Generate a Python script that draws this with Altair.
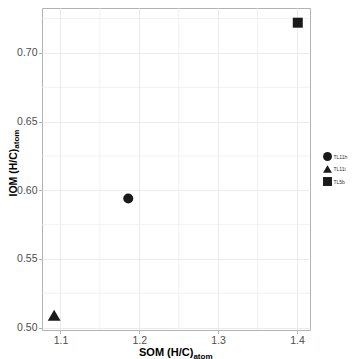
import altair as alt
import pandas as pd

# ---- data ----
samples = ["TL11h", "TL11i", "TL5b"]
som_hc = [1.186, 1.092, 1.401]
iom_hc = [0.594, 0.509, 0.722]

x_major = [1.1, 1.2, 1.3, 1.4]
x_minor = [1.15, 1.25, 1.35]
y_major = [0.50, 0.55, 0.60, 0.65, 0.70]
y_minor = [0.525, 0.575, 0.625, 0.675, 0.725]

df = pd.DataFrame({"sample": samples, "SOM": som_hc, "IOM": iom_hc})

FONT = "Liberation Sans"
GRID = "#EBEBEB"
xscale = alt.Scale(domain=[1.0766, 1.4165], nice=False, zero=False)
yscale = alt.Scale(domain=[0.4983, 0.7327], nice=False, zero=False)

xaxis = alt.Axis(
    values=x_major, format=".1f", title=None, grid=True, gridColor=GRID, gridWidth=1,
    domain=False, tickColor="#B3B3B3", tickSize=3.5, tickWidth=1,
    labelColor="#4D4D4D", labelFont=FONT, labelFontSize=10.5, labelPadding=1.5)
yaxis = alt.Axis(
    values=y_major, format=".2f", title=None, grid=True, gridColor=GRID, gridWidth=1,
    domain=False, tickColor="#B3B3B3", tickSize=3.5, tickWidth=1,
    labelColor="#4D4D4D", labelFont=FONT, labelFontSize=10.5, labelPadding=1.5)

xminor = alt.Chart(pd.DataFrame({"v": x_minor})).mark_rule(
    color=GRID, strokeWidth=0.7
).encode(x=alt.X("v:Q", scale=xscale, axis=xaxis))

yminor = alt.Chart(pd.DataFrame({"v": y_minor})).mark_rule(
    color=GRID, strokeWidth=0.7
).encode(y=alt.Y("v:Q", scale=yscale, axis=yaxis))

points = alt.Chart(df).mark_point(filled=True, opacity=1, color="#1a1a1a", strokeWidth=0).encode(
    x=alt.X("SOM:Q", scale=xscale, axis=xaxis),
    y=alt.Y("IOM:Q", scale=yscale, axis=yaxis),
    shape=alt.Shape("sample:N",
                    scale=alt.Scale(domain=samples, range=["circle", "triangle-up", "square"]),
                    legend=alt.Legend(title=None, orient="none", legendX=281, legendY=144,
                                      symbolSize=80, symbolFillColor="#1a1a1a",
                                      symbolStrokeWidth=0, labelFont=FONT, labelFontSize=5,
                                      labelColor="#333333", labelOffset=1.5, rowPadding=3.5)),
    size=alt.condition(alt.datum.sample == "TL11i", alt.value(165), alt.value(100)),
)


def label(text, x, y, size, angle=0):
    return alt.Chart(alt.Data(values=[{}])).mark_text(
        text=text, font=FONT, fontSize=size, fontWeight="bold", color="#000000",
        align="left", baseline="alphabetic", angle=angle
    ).encode(x=alt.value(x), y=alt.value(y))


titles = [
    label("SOM (H/C)", 97, 348, 11),
    label("atom", 151.4, 350.5, 8),
    label("IOM (H/C)", -25.5, 188.5, 10.5, angle=270),
    label("atom", -23.5, 140.7, 8, angle=270),
]

chart = alt.layer(xminor, yminor, points, *titles).properties(
    width=268, height=322,
    padding={"left": 34, "top": 0, "right": 39, "bottom": 29},
    autosize=alt.AutoSizeParams(type="none"),
    background="white",
).configure_view(stroke="#B3B3B3", strokeWidth=1)

chart.save("out.html", embed_options={"renderer": "svg", "actions": False})
